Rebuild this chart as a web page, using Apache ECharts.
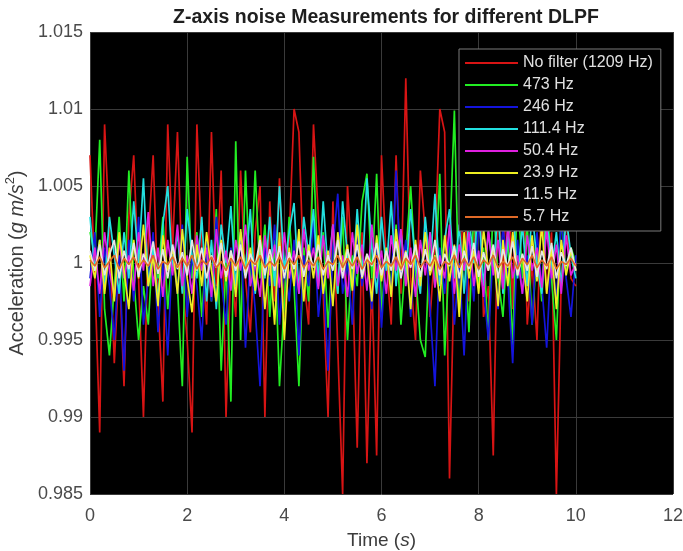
<!DOCTYPE html>
<html>
<head>
<meta charset="utf-8">
<title>Z-axis noise Measurements for different DLPF</title>
<script src="https://cdn.jsdelivr.net/npm/echarts@6/dist/echarts.min.js"></script>
<style>
  html, body { margin: 0; padding: 0; background: #fff; }
  #chart { width: 683px; height: 551px; }
</style>
</head>
<body>
<div id="chart"></div>
<script>
// Sample times in seconds (10 samples per second)
const times = [
  0.0, 0.1, 0.2, 0.3, 0.4, 0.5, 0.6, 0.7, 0.8, 0.9,
  1.0, 1.1, 1.2, 1.3, 1.4, 1.5, 1.6, 1.7, 1.8, 1.9,
  2.0, 2.1, 2.2, 2.3, 2.4, 2.5, 2.6, 2.7, 2.8, 2.9,
  3.0, 3.1, 3.2, 3.3, 3.4, 3.5, 3.6, 3.7, 3.8, 3.9,
  4.0, 4.1, 4.2, 4.3, 4.4, 4.5, 4.6, 4.7, 4.8, 4.9,
  5.0, 5.1, 5.2, 5.3, 5.4, 5.5, 5.6, 5.7, 5.8, 5.9,
  6.0, 6.1, 6.2, 6.3, 6.4, 6.5, 6.6, 6.7, 6.8, 6.9,
  7.0, 7.1, 7.2, 7.3, 7.4, 7.5, 7.6, 7.7, 7.8, 7.9,
  8.0, 8.1, 8.2, 8.3, 8.4, 8.5, 8.6, 8.7, 8.8, 8.9,
  9.0, 9.1, 9.2, 9.3, 9.4, 9.5, 9.6, 9.7, 9.8, 9.9,
  10.0
];

const seriesNames = [
  'No filter (1209 Hz)', '473 Hz', '246 Hz', '111.4 Hz',
  '50.4 Hz', '23.9 Hz', '11.5 Hz', '5.7 Hz'
];

// Z-axis acceleration in g, one array per DLPF setting
const noFilter = [
  1.0070, 0.9990, 0.9890, 1.0090, 1.0020, 0.9935, 1.0000, 0.9920, 1.0030, 1.0070,
  0.9990, 0.9900, 1.0015, 1.0070, 0.9975, 0.9910, 1.0090, 1.0010, 1.0085, 0.9990,
  0.9950, 0.9890, 1.0090, 1.0010, 0.9960, 1.0085, 0.9985, 1.0060, 0.9900, 1.0000,
  0.9965, 1.0060, 0.9990, 0.9955, 1.0020, 1.0050, 0.9900, 1.0040, 0.9975, 1.0055,
  0.9965, 1.0015, 1.0100, 1.0085, 0.9990, 0.9960, 1.0090, 1.0030, 0.9980, 0.9900,
  1.0040, 0.9945, 0.9850, 1.0050, 0.9995, 0.9880, 1.0020, 0.9870, 0.9990, 0.9875,
  1.0070, 1.0000, 0.9960, 1.0070, 0.9980, 1.0120, 0.9990, 0.9950, 1.0060, 1.0020,
  0.9965, 1.0010, 1.0100, 1.0085, 0.9860, 1.0000, 0.9980, 1.0050, 0.9975, 1.0010,
  1.0075, 0.9965, 0.9985, 0.9875, 1.0040, 0.9990, 1.0070, 0.9970, 1.0100, 1.0080,
  0.9960, 1.0000, 0.9950, 1.0050, 0.9980, 1.0020, 0.9850, 0.9990, 1.0030, 0.9990,
  0.9985
];
const hz473 = [
  1.0020, 1.0005, 1.0080, 0.9970, 0.9940, 0.9985, 1.0030, 0.9975, 1.0060, 0.9990,
  0.9950, 0.9985, 0.9960, 1.0015, 0.9990, 1.0030, 0.9970, 1.0010, 0.9985, 0.9920,
  1.0069, 0.9990, 1.0020, 0.9965, 1.0010, 0.9975, 1.0035, 0.9930, 1.0000, 0.9910,
  1.0079, 0.9950, 1.0060, 0.9985, 1.0060, 0.9990, 1.0025, 0.9965, 1.0015, 0.9920,
  0.9975, 1.0030, 0.9985, 0.9920, 1.0010, 0.9975, 1.0069, 0.9990, 1.0020, 0.9958,
  1.0010, 0.9980, 1.0030, 0.9950, 1.0005, 0.9985, 1.0040, 1.0058, 0.9990, 1.0058,
  0.9967, 1.0010, 0.9985, 1.0025, 0.9960, 1.0005, 1.0050, 0.9995, 0.9950, 0.9939,
  1.0020, 0.9985, 1.0058, 0.9940, 1.0010, 1.0099, 0.9970, 1.0015, 0.9955, 1.0035,
  0.9985, 1.0010, 0.9950, 1.0040, 0.9990, 0.9965, 1.0020, 0.9945, 1.0050, 0.9990,
  1.0025, 0.9960, 1.0010, 0.9975, 1.0045, 0.9990, 0.9950, 1.0030, 0.9995, 1.0010,
  1.0000
];
const hz246 = [
  0.9990, 1.0020, 0.9965, 1.0010, 0.9985, 0.9950, 1.0005, 0.9930, 1.0015, 0.9975,
  1.0030, 0.9960, 0.9990, 1.0020, 0.9955, 1.0000, 0.9940, 1.0010, 0.9980, 1.0025,
  0.9965, 1.0005, 0.9985, 0.9950, 1.0015, 0.9975, 1.0030, 0.9990, 0.9960, 1.0010,
  0.9980, 1.0020, 0.9945, 1.0005, 0.9970, 0.9920, 1.0010, 0.9985, 1.0025, 0.9960,
  1.0000, 0.9975, 1.0015, 0.9940, 1.0005, 0.9985, 1.0030, 0.9965, 0.9995, 0.9930,
  1.0010, 1.0045, 0.9980, 1.0000, 0.9960, 1.0020, 0.9985, 1.0005, 0.9970, 1.0015,
  0.9958, 1.0010, 0.9980, 1.0060, 0.9990, 1.0015, 0.9965, 1.0005, 0.9985, 1.0025,
  0.9970, 0.9920, 1.0010, 0.9980, 1.0020, 0.9960, 1.0000, 0.9940, 1.0015, 0.9975,
  1.0030, 0.9985, 0.9950, 1.0010, 0.9970, 1.0025, 0.9990, 0.9935, 1.0015, 0.9980,
  1.0005, 0.9960, 1.0020, 0.9985, 0.9945, 1.0010, 0.9975, 1.0030, 0.9990, 0.9965,
  1.0005
];
const hz111 = [
  1.0030, 0.9995, 1.0015, 0.9985, 1.0030, 1.0005, 0.9980, 1.0020, 0.9990, 1.0040,
  1.0000, 1.0055, 0.9985, 1.0010, 0.9975, 1.0025, 1.0050, 0.9995, 1.0020, 0.9980,
  1.0035, 1.0005, 0.9990, 1.0030, 0.9975, 1.0015, 0.9970, 1.0025, 1.0000, 1.0037,
  0.9985, 1.0020, 0.9995, 1.0035, 0.9980, 1.0010, 0.9990, 1.0030, 0.9985, 1.0050,
  0.9995, 1.0020, 1.0039, 0.9980, 1.0030, 1.0005, 1.0035, 0.9985, 1.0040, 0.9995,
  1.0025, 0.9980, 1.0040, 1.0005, 0.9985, 1.0035, 0.9990, 1.0055, 1.0010, 0.9980,
  1.0030, 0.9995, 1.0040, 0.9985, 1.0020, 0.9990, 1.0035, 1.0000, 0.9980, 1.0030,
  0.9995, 1.0045, 0.9985, 1.0015, 1.0035, 0.9990, 1.0025, 0.9980, 1.0030, 1.0000,
  1.0040, 0.9985, 1.0020, 0.9995, 1.0035, 0.9980, 1.0015, 1.0040, 0.9990, 1.0025,
  0.9985, 1.0035, 1.0000, 0.9980, 1.0030, 0.9995, 1.0020, 0.9985, 1.0030, 1.0005,
  0.9990
];
const hz50 = [
  0.9985, 1.0010, 0.9980, 1.0020, 0.9995, 0.9978, 1.0015, 0.9990, 1.0005, 0.9982,
  1.0020, 0.9995, 1.0033, 0.9985, 1.0010, 0.9978, 1.0015, 0.9992, 1.0025, 0.9985,
  1.0005, 0.9980, 1.0018, 0.9995, 1.0010, 0.9978, 1.0022, 0.9990, 1.0008, 0.9982,
  1.0015, 0.9995, 1.0025, 0.9985, 1.0000, 0.9978, 1.0018, 0.9992, 1.0012, 0.9984,
  1.0020, 0.9990, 1.0008, 0.9980, 1.0022, 0.9995, 1.0010, 0.9983, 1.0018, 0.9990,
  1.0025, 0.9985, 1.0005, 0.9978, 1.0020, 0.9993, 1.0012, 0.9982, 1.0025, 0.9990,
  1.0008, 0.9980, 1.0018, 0.9995, 1.0022, 0.9985, 1.0010, 0.9978, 1.0015, 0.9992,
  1.0020, 0.9984, 1.0005, 0.9990, 1.0025, 0.9980, 1.0012, 0.9995, 1.0020, 0.9985,
  1.0008, 0.9978, 1.0022, 0.9992, 1.0015, 0.9983, 1.0025, 0.9990, 1.0005, 0.9980,
  1.0018, 0.9995, 1.0010, 0.9984, 1.0022, 0.9990, 1.0012, 0.9980, 1.0018, 0.9992,
  1.0000
];
const hz24 = [
  1.0005, 0.9990, 1.0015, 0.9980, 1.0010, 0.9975, 1.0020, 0.9995, 0.9970, 1.0015,
  0.9990, 1.0025, 0.9985, 1.0005, 0.9972, 1.0018, 0.9995, 1.0010, 0.9980, 1.0022,
  0.9990, 0.9968, 1.0012, 0.9985, 1.0020, 0.9995, 0.9975, 1.0015, 0.9988, 1.0008,
  0.9978, 1.0022, 0.9992, 1.0010, 0.9982, 1.0018, 0.9970, 1.0005, 0.9960, 1.0020,
  0.9950, 1.0010, 0.9985, 1.0022, 0.9975, 1.0012, 0.9990, 1.0018, 0.9980, 1.0008,
  0.9972, 1.0020, 0.9995, 1.0012, 0.9982, 1.0025, 0.9990, 1.0005, 0.9975, 1.0018,
  0.9988, 1.0010, 0.9978, 1.0022, 0.9995, 1.0008, 0.9970, 1.0015, 0.9985, 1.0020,
  0.9992, 1.0005, 0.9975, 1.0018, 0.9988, 1.0012, 0.9965, 1.0020, 0.9990, 1.0008,
  0.9980, 1.0022, 0.9995, 1.0010, 0.9972, 1.0015, 0.9985, 1.0020, 0.9992, 1.0005,
  0.9975, 1.0018, 0.9988, 1.0025, 0.9980, 1.0010, 0.9970, 1.0015, 0.9992, 1.0008,
  0.9995
];
const hz11 = [
  1.0008, 0.9995, 1.0012, 0.9992, 1.0005, 1.0015, 0.9990, 1.0008, 0.9996, 1.0013,
  0.9991, 1.0006, 0.9998, 1.0014, 0.9993, 1.0009, 0.9990, 1.0012, 0.9996, 1.0007,
  0.9992, 1.0015, 0.9995, 1.0010, 0.9990, 1.0005, 0.9997, 1.0013, 0.9991, 1.0008,
  0.9995, 1.0012, 0.9990, 1.0006, 0.9998, 1.0015, 0.9992, 1.0009, 0.9995, 1.0011,
  0.9990, 1.0007, 0.9996, 1.0014, 0.9991, 1.0008, 0.9997, 1.0012, 0.9992, 1.0005,
  0.9995, 1.0015, 0.9990, 1.0009, 0.9996, 1.0012, 0.9991, 1.0006, 0.9998, 1.0013,
  0.9992, 1.0008, 0.9995, 1.0014, 0.9990, 1.0007, 0.9997, 1.0012, 0.9991, 1.0009,
  0.9995, 1.0015, 0.9992, 1.0006, 0.9998, 1.0011, 0.9990, 1.0008, 0.9996, 1.0013,
  0.9991, 1.0007, 0.9995, 1.0012, 0.9990, 1.0009, 0.9997, 1.0014, 0.9992, 1.0006,
  0.9995, 1.0011, 0.9991, 1.0008, 0.9996, 1.0013, 0.9990, 1.0007, 0.9998, 1.0010,
  0.9995
];
const hz6 = [
  1.0002, 0.9998, 1.0004, 0.9997, 1.0001, 1.0005, 0.9996, 1.0003, 0.9999, 1.0004,
  0.9997, 1.0002, 0.9998, 1.0005, 0.9996, 1.0001, 0.9999, 1.0004, 0.9997, 1.0003,
  0.9998, 1.0005, 0.9996, 1.0002, 0.9999, 1.0004, 0.9997, 1.0001, 0.9995, 1.0003,
  0.9998, 1.0004, 0.9996, 1.0002, 0.9999, 1.0005, 0.9997, 1.0001, 0.9998, 1.0004,
  0.9996, 1.0003, 0.9999, 1.0005, 0.9997, 1.0002, 0.9998, 1.0004, 0.9996, 1.0001,
  0.9999, 1.0005, 0.9997, 1.0003, 0.9998, 1.0004, 0.9996, 1.0002, 0.9999, 1.0005,
  0.9997, 1.0001, 0.9998, 1.0004, 0.9996, 1.0003, 0.9999, 1.0005, 0.9997, 1.0002,
  0.9998, 1.0004, 0.9996, 1.0001, 0.9999, 1.0005, 0.9997, 1.0003, 0.9998, 1.0004,
  0.9996, 1.0002, 0.9999, 1.0005, 0.9997, 1.0001, 0.9998, 1.0004, 0.9996, 1.0003,
  0.9999, 1.0005, 0.9997, 1.0002, 0.9998, 1.0004, 0.9996, 1.0001, 0.9999, 1.0003,
  0.9998
];

const seriesValues = [noFilter, hz473, hz246, hz111, hz50, hz24, hz11, hz6];
const lineColors = [
  '#d81414', '#22ee22', '#1414dc', '#22e0e0',
  '#e020e0', '#eeee22', '#e6e6e6', '#e06a28'
];

const xTicks = { min: 0, max: 12, step: 2 };
const yTicks = { min: 0.985, max: 1.015, step: 0.005 };

const FONT = '"Liberation Sans", Arial, Helvetica, sans-serif';
const LABEL_GREY = '#3c3c3c';

const chart = echarts.init(document.getElementById('chart'), null, { renderer: 'canvas' });

chart.setOption({
  backgroundColor: '#ffffff',
  animation: false,
  title: {
    text: 'Z-axis noise Measurements for different DLPF',
    left: 381, top: 3, textAlign: 'center',
    textStyle: { fontFamily: FONT, fontSize: 19.5, fontWeight: 'bold', color: '#1e1e1e' }
  },
  grid: {
    left: 90, right: 10, top: 32, bottom: 57,
    outerBoundsMode: 'none',
    containLabel: false,
    show: true, backgroundColor: '#000000', borderWidth: 0
  },
  legend: {
    orient: 'vertical',
    left: 459, top: 49,
    backgroundColor: '#000000',
    borderColor: '#7a7a7a', borderWidth: 1,
    padding: [6, 8, 6, 6],
    icon: 'rect',
    itemWidth: 53, itemHeight: 2, itemGap: 6,
    textStyle: { fontFamily: FONT, fontSize: 16, lineHeight: 16, color: '#e0e0e0' },
    data: seriesNames
  },
  xAxis: {
    type: 'value',
    min: xTicks.min, max: xTicks.max, interval: xTicks.step,
    name: '{n|Time (}{i|s}{n|)}',
    nameLocation: 'middle', nameGap: 37,
    nameTextStyle: {
      rich: {
        n: { fontFamily: FONT, fontSize: 19, color: LABEL_GREY },
        i: { fontFamily: FONT, fontSize: 19, fontStyle: 'italic', color: LABEL_GREY }
      }
    },
    axisLine: { show: false },
    axisTick: { show: false },
    axisLabel: { fontFamily: FONT, fontSize: 18, color: '#4a4a4a', margin: 13 },
    splitLine: { show: true, lineStyle: { color: '#3a3a3a', width: 1 } }
  },
  yAxis: {
    type: 'value',
    min: yTicks.min, max: yTicks.max, interval: yTicks.step,
    name: '{n|Acceleration (}{i|g m/s}{sup|2}{n|)}',
    nameLocation: 'middle', nameGap: 52, nameRotate: 90,
    nameTextStyle: {
      rich: {
        n: { fontFamily: FONT, fontSize: 20, lineHeight: 26, color: LABEL_GREY },
        i: { fontFamily: FONT, fontSize: 20, lineHeight: 26, fontStyle: 'italic', color: LABEL_GREY },
        sup: { fontFamily: FONT, fontSize: 13, lineHeight: 13, verticalAlign: 'top', color: LABEL_GREY }
      }
    },
    axisLine: { show: false },
    axisTick: { show: false },
    axisLabel: {
      fontFamily: FONT, fontSize: 18, color: '#4a4a4a', margin: 7,
      formatter: v => String(+v.toFixed(3))
    },
    splitLine: { show: true, lineStyle: { color: '#3a3a3a', width: 1 } }
  },
  series: seriesNames.map((name, k) => ({
    name,
    type: 'line',
    data: times.map((t, i) => [t, seriesValues[k][i]]),
    symbol: 'none',
    showSymbol: false,
    color: lineColors[k],
    lineStyle: { color: lineColors[k], width: 1.7 },
    emphasis: { disabled: true }
  }))
});
</script>
</body>
</html>
